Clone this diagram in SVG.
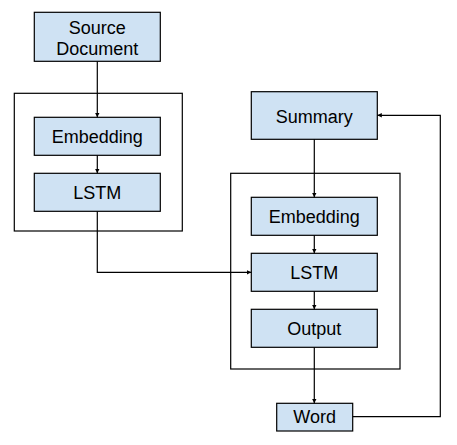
<svg xmlns="http://www.w3.org/2000/svg" width="457" height="445" viewBox="0 0 457 445">
<style>
.frame{fill:none;stroke:#000;stroke-width:1.2}
.box{fill:#cfe2f3;stroke:#000;stroke-width:1.2}
.lbl{font-family:"Liberation Sans",Arial,sans-serif;font-size:18px;fill:#000;text-anchor:middle}
.conn{fill:none;stroke:#000;stroke-width:1.2}
</style>
<defs>
<marker id="arr" markerUnits="userSpaceOnUse" markerWidth="5" markerHeight="5" refX="4.5" refY="2.25" orient="auto">
<path d="M0,0 L4.5,2.25 L0,4.5 z" fill="#000"/>
</marker>
</defs>
<rect id="encoder-frame" class="frame" x="14.3" y="93.3" width="168" height="137.7"/>
<rect id="decoder-frame" class="frame" x="230.7" y="173.3" width="169.3" height="195.7"/>
<g id="source-document">
<rect class="box" x="34.3" y="12.3" width="126" height="49"/>
<text class="lbl" x="97.3" y="33.5">Source</text>
<text class="lbl" x="97.3" y="55">Document</text>
</g>
<g id="embedding-enc">
<rect class="box" x="34.3" y="117.3" width="126" height="38"/>
<text class="lbl" x="97.3" y="142.8">Embedding</text>
</g>
<g id="lstm-enc">
<rect class="box" x="34.3" y="173.3" width="126" height="38"/>
<text class="lbl" x="97.3" y="198.8">LSTM</text>
</g>
<g id="summary">
<rect class="box" x="251.3" y="91.7" width="126" height="47.6"/>
<text class="lbl" x="314.3" y="122.5">Summary</text>
</g>
<g id="embedding-dec">
<rect class="box" x="251.3" y="197.3" width="126" height="38"/>
<text class="lbl" x="314.3" y="222.8">Embedding</text>
</g>
<g id="lstm-dec">
<rect class="box" x="251.3" y="253.3" width="126" height="38"/>
<text class="lbl" x="314.3" y="278.8">LSTM</text>
</g>
<g id="output">
<rect class="box" x="251.3" y="309.3" width="126" height="38"/>
<text class="lbl" x="314.3" y="334.8">Output</text>
</g>
<g id="word">
<rect class="box" x="276.7" y="403.3" width="76" height="27.7"/>
<text class="lbl" x="314.7" y="423">Word</text>
</g>
<g id="connectors">
<path class="conn" d="M97.3,61.3 V117.3" marker-end="url(#arr)"/>
<path class="conn" d="M97.3,155.3 V173.3" marker-end="url(#arr)"/>
<path class="conn" d="M97.3,211.3 V272.3 H251.3" marker-end="url(#arr)"/>
<path class="conn" d="M314.3,139.3 V197.3" marker-end="url(#arr)"/>
<path class="conn" d="M314.3,235.3 V253.3" marker-end="url(#arr)"/>
<path class="conn" d="M314.3,291.3 V309.3" marker-end="url(#arr)"/>
<path class="conn" d="M314.3,347.3 V403.3" marker-end="url(#arr)"/>
<path class="conn" d="M352.7,416.7 H440.3 V115.3 H377.3" marker-end="url(#arr)"/>
</g>
</svg>
